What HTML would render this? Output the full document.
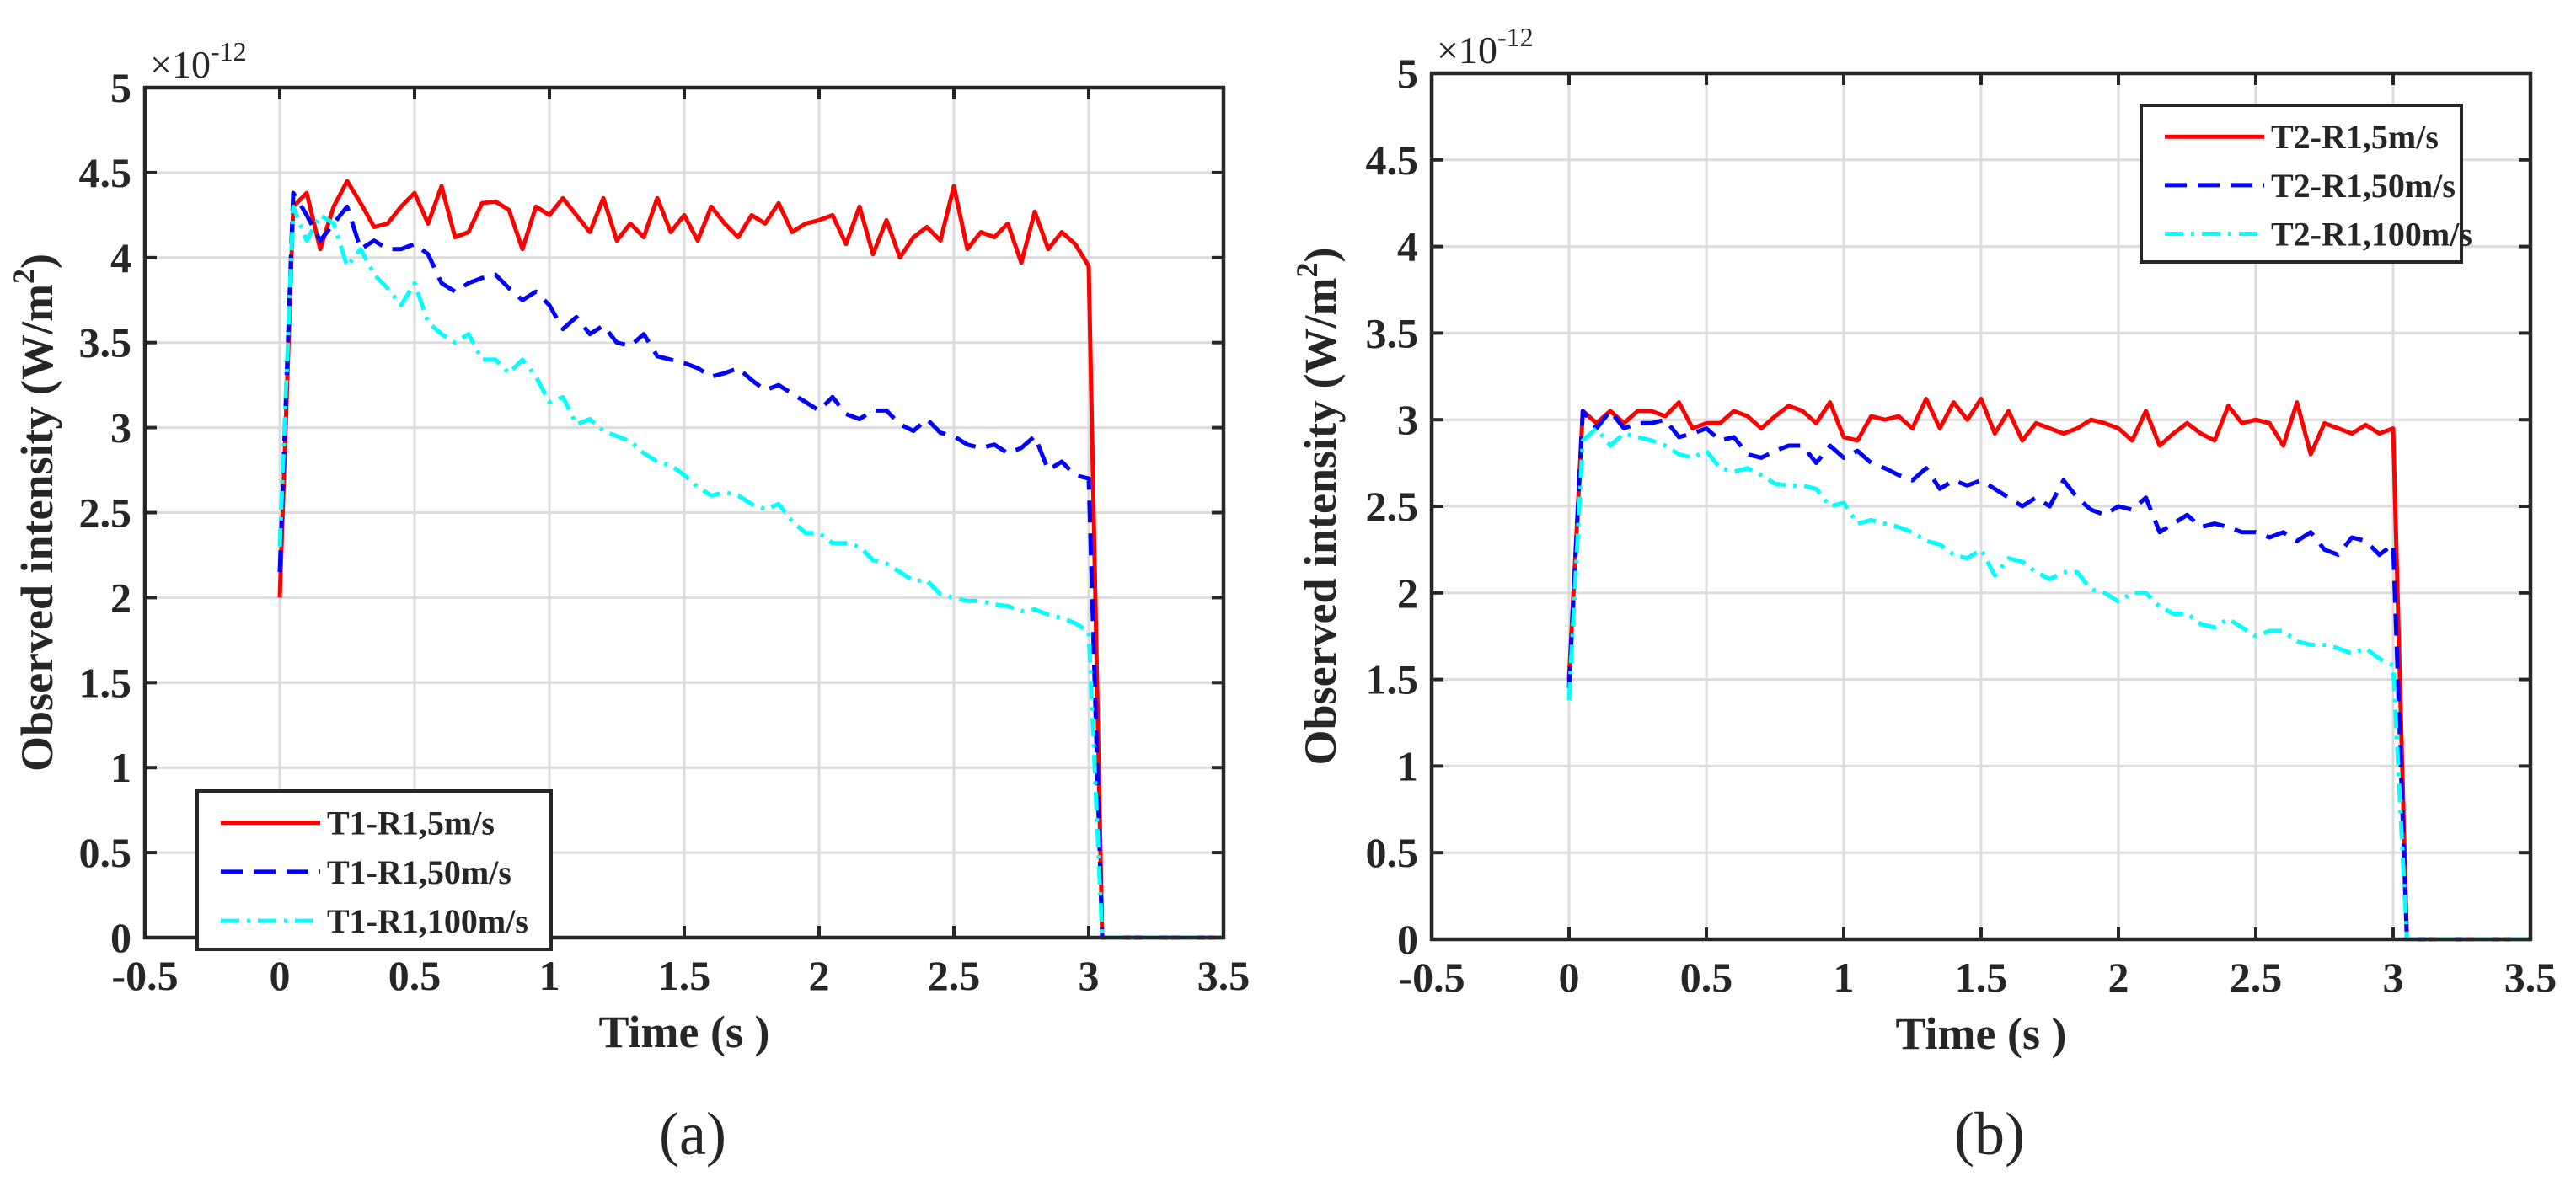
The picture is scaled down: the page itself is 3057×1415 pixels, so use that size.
<!DOCTYPE html>
<html><head><meta charset="utf-8"><style>
html,body{margin:0;padding:0;background:#fff;}
svg{display:block;}
text{font-family:"Liberation Serif",serif;fill:#262626;}
</style></head><body>
<svg id="fig" width="3057" height="1415" viewBox="0 0 3057 1415" xmlns="http://www.w3.org/2000/svg"></svg>
<script>
const xTicks=[-0.5,0,0.5,1,1.5,2,2.5,3,3.5];
const xTickLabels=["-0.5","0","0.5","1","1.5","2","2.5","3","3.5"];
const yTicks=[0,0.5,1,1.5,2,2.5,3,3.5,4,4.5,5];
const yTickLabels=["0","0.5","1","1.5","2","2.5","3","3.5","4","4.5","5"];
const times=[];for(let i=0;i<=60;i++)times.push(+(i*0.05).toFixed(2));times.push(3.05,3.5);
const redA=[2.0,4.3,4.38,4.05,4.3,4.45,4.32,4.18,4.2,4.3,4.38,4.2,4.42,4.12,4.15,4.32,4.33,4.28,4.05,4.3,4.25,4.35,4.25,4.15,4.35,4.1,4.2,4.12,4.35,4.15,4.25,4.1,4.3,4.2,4.12,4.25,4.2,4.32,4.15,4.2,4.22,4.25,4.08,4.3,4.02,4.22,4.0,4.12,4.18,4.1,4.42,4.05,4.15,4.12,4.2,3.97,4.27,4.05,4.15,4.08,3.95,0,0];
const blueA=[2.15,4.38,4.25,4.1,4.2,4.3,4.05,4.1,4.05,4.05,4.08,4.02,3.85,3.8,3.85,3.88,3.9,3.82,3.75,3.8,3.72,3.58,3.65,3.55,3.6,3.5,3.48,3.55,3.42,3.4,3.38,3.35,3.3,3.32,3.35,3.28,3.22,3.25,3.2,3.15,3.1,3.18,3.08,3.05,3.1,3.1,3.02,2.98,3.05,2.97,2.95,2.9,2.88,2.9,2.85,2.88,2.95,2.75,2.8,2.72,2.7,0,0];
const cyanA=[2.3,4.3,4.1,4.25,4.2,3.95,4.05,3.9,3.82,3.72,3.85,3.62,3.55,3.5,3.55,3.4,3.4,3.32,3.4,3.3,3.15,3.18,3.02,3.05,2.98,2.95,2.92,2.85,2.8,2.78,2.72,2.65,2.6,2.62,2.6,2.55,2.52,2.55,2.45,2.38,2.38,2.32,2.32,2.3,2.22,2.2,2.15,2.1,2.1,2.02,2.0,1.98,1.98,1.96,1.95,1.92,1.93,1.9,1.88,1.85,1.8,0,0];
const redB=[1.5,3.05,2.98,3.05,2.98,3.05,3.05,3.02,3.1,2.95,2.98,2.98,3.05,3.02,2.95,3.02,3.08,3.05,2.98,3.1,2.9,2.88,3.02,3.0,3.02,2.95,3.12,2.95,3.1,3.0,3.12,2.92,3.05,2.88,2.98,2.95,2.92,2.95,3.0,2.98,2.95,2.88,3.05,2.85,2.92,2.98,2.92,2.88,3.08,2.98,3.0,2.98,2.85,3.1,2.8,2.98,2.95,2.92,2.97,2.92,2.95,0,0];
const blueB=[1.45,3.05,2.95,3.05,2.95,2.98,2.98,3.0,2.9,2.92,2.95,2.88,2.9,2.8,2.78,2.82,2.85,2.85,2.75,2.85,2.78,2.82,2.75,2.72,2.68,2.65,2.72,2.6,2.65,2.62,2.65,2.6,2.55,2.5,2.55,2.5,2.65,2.55,2.48,2.45,2.5,2.48,2.55,2.35,2.4,2.45,2.38,2.4,2.38,2.35,2.35,2.32,2.35,2.3,2.35,2.25,2.22,2.32,2.3,2.22,2.28,0,0];
const cyanB=[1.38,2.88,2.95,2.85,2.92,2.9,2.88,2.85,2.8,2.78,2.82,2.72,2.7,2.72,2.68,2.63,2.62,2.62,2.6,2.5,2.52,2.4,2.42,2.4,2.38,2.35,2.3,2.28,2.22,2.2,2.25,2.1,2.2,2.18,2.12,2.08,2.12,2.12,2.02,2.0,1.95,2.0,2.0,1.92,1.88,1.88,1.82,1.8,1.85,1.8,1.75,1.78,1.78,1.72,1.7,1.7,1.68,1.65,1.68,1.62,1.58,0,0];
const legendA=["T1-R1,5m/s","T1-R1,50m/s","T1-R1,100m/s"];
const legendB=["T2-R1,5m/s","T2-R1,50m/s","T2-R1,100m/s"];

const NS="http://www.w3.org/2000/svg";
const svg=document.getElementById('fig');
function mk(tag,attrs,parent){const e=document.createElementNS(NS,tag);for(const k in attrs)e.setAttribute(k,attrs[k]);(parent||svg).appendChild(e);return e;}
const styles=[{c:"#ff0000",d:""},{c:"#0000ff",d:"26 13"},{c:"#00ffff",d:"22 9 4 9"}];

function panel(P){
  const g=mk('g',{});
  
  
  const sx=v=>P.x0+(v+0.5)/4*(P.x1-P.x0);
  const sy=v=>P.y1-v/5*(P.y1-P.y0);
  xTicks.forEach(t=>{const l=mk('line',{x1:sx(t),x2:sx(t),y1:P.y0,y2:P.y1,stroke:"#dcdcdc","stroke-width":3},g);
    });
  yTicks.forEach(t=>{const l=mk('line',{x1:P.x0,x2:P.x1,y1:sy(t),y2:sy(t),stroke:"#dcdcdc","stroke-width":3},g);
    });
  P.series.forEach((s,i)=>{
    const pts=times.map((t,j)=>sx(t).toFixed(1)+","+sy(s[j]).toFixed(1)).join(" ");
    const pl=mk('polyline',{points:pts,fill:"none",stroke:styles[i].c,"stroke-width":5,"stroke-linejoin":"round"},g);
    if(styles[i].d)pl.setAttribute('stroke-dasharray',styles[i].d);
    
    
  });
  const box=mk('rect',{x:P.x0,y:P.y0,width:P.x1-P.x0,height:P.y1-P.y0,fill:"none",stroke:"#262626","stroke-width":4.5},g);
  
  xTicks.forEach(t=>{mk('line',{x1:sx(t),x2:sx(t),y1:P.y1,y2:P.y1-14,stroke:"#262626","stroke-width":4},g);mk('line',{x1:sx(t),x2:sx(t),y1:P.y0,y2:P.y0+14,stroke:"#262626","stroke-width":4},g);});
  yTicks.forEach(t=>{mk('line',{x1:P.x0,x2:P.x0+14,y1:sy(t),y2:sy(t),stroke:"#262626","stroke-width":4},g);mk('line',{x1:P.x1,x2:P.x1-14,y1:sy(t),y2:sy(t),stroke:"#262626","stroke-width":4},g);});
  xTicks.forEach((t,i)=>{const tx=mk('text',{x:sx(t),y:P.y1+62,"text-anchor":"middle","font-size":50,"font-weight":"bold"},g);tx.textContent=xTickLabels[i];
    });
  yTicks.forEach((t,i)=>{const tx=mk('text',{x:P.x0-16,y:sy(t)+17,"text-anchor":"end","font-size":50,"font-weight":"bold"},g);tx.textContent=yTickLabels[i];
    });
  const ex=mk('text',{x:P.x0+6,y:P.y0-12,"font-size":46},g);ex.innerHTML='×10<tspan dy="-20" font-size="32">-12</tspan>';
  
  const xt=mk('text',{x:(P.x0+P.x1)/2,y:P.y1+130,"text-anchor":"middle","font-size":54,"font-weight":"bold"},g);xt.textContent="Time (s )";
  
  const yt=mk('text',{x:0,y:0,"text-anchor":"middle","font-size":54,"font-weight":"bold",transform:`translate(${P.ytx},${(P.y0+P.y1)/2}) rotate(-90)`},g);
  yt.innerHTML='Observed intensity (W/m<tspan dy="-22" font-size="36">2</tspan><tspan dy="22">)</tspan>';
  
  const cap=mk('text',{x:(P.x0+P.x1)/2+10,y:1370,"text-anchor":"middle","font-size":72},g);cap.textContent=P.cap;
  
  const L=P.leg;
  const lg=mk('g',{},g);
  mk('rect',{x:L.x,y:L.y,width:L.w,height:L.h,fill:"#fff",stroke:"#262626","stroke-width":4},lg);
  P.legend.forEach((name,i)=>{
    const yy=L.y+L.h*(0.2+0.31*i);
    const ln=mk('line',{x1:L.x+28,x2:L.x+146,y1:yy,y2:yy,stroke:styles[i].c,"stroke-width":5},lg);
    if(styles[i].d)ln.setAttribute('stroke-dasharray',styles[i].d);
    
    const tx=mk('text',{x:L.x+154,y:yy+14,"font-size":40,"font-weight":"bold"},lg);tx.textContent=name;
    
  });
}
panel({name:'panel-a',x0:172,x1:1452,y0:104,y1:1113,ytx:62,cap:'(a)',series:[redA,blueA,cyanA],legend:legendA,leg:{x:234,y:939,w:420,h:188}});
panel({name:'panel-b',x0:1699,x1:3003,y0:87,y1:1115,ytx:1585,cap:'(b)',series:[redB,blueB,cyanB],legend:legendB,leg:{x:2541,y:125,w:380,h:186}});
</script>
</body></html>
